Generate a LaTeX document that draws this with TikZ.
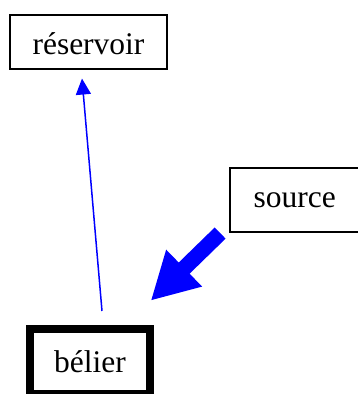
\documentclass[tikz,border=0pt]{standalone}
\usepackage{fontspec}
\setmainfont{Liberation Serif}
\usetikzlibrary{arrows.meta, calc}

\begin{document}
\begin{tikzpicture}[x=1pt, y=1pt,
    boite/.style={draw, line width=1.6pt, inner sep=0pt, text depth=0pt,
      font=\fontsize{31.5}{38}\selectfont},
    fleche/.style={blue, line width=1.5pt, -{Triangle[length=16pt, width=15pt]}},
    grossefleche/.style={blue, line width=15.6pt, -{Triangle[length=46.7pt, width=47.9pt]}}]
    \useasboundingbox (0,0) rectangle (358,394);

    \node[boite, minimum width=157.5pt, minimum height=54.5pt, text height=26pt] (reservoir) at (88.5,352) {réservoir};
    \node[boite, minimum width=130pt, minimum height=64.5pt, text height=16pt] (source) at (294.8,194) {source};
    \node[boite, line width=8pt, minimum width=120pt, minimum height=65pt, text height=23pt] (belier) at (90,32.5) {bélier};

    \draw[fleche] ([xshift=12pt, yshift=14pt]belier.north) -- ([xshift=-6.5pt, yshift=-8.5pt]reservoir.south);
    \draw[grossefleche] ([xshift=-8.85pt]source.south west) -- ([xshift=-3.3pt, yshift=24.3pt]belier.north east);
\end{tikzpicture}
\end{document}
